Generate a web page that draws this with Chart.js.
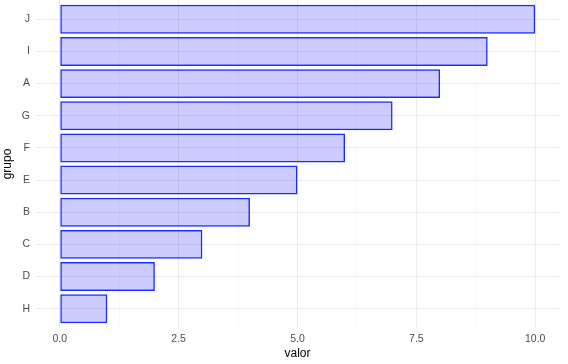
<!DOCTYPE html>
<html>
<head>
<meta charset="utf-8">
<script src="https://cdn.jsdelivr.net/npm/chart.js@4"></script>
<style>
  html, body { margin: 0; padding: 0; background: #fff; }
  canvas { display: block; }
</style>
</head>
<body>
<canvas id="grafico" width="568" height="364"></canvas>
<script>
// grupos de baixo para cima (ordem do eixo no ggplot)
const grupos = ["H", "D", "C", "B", "E", "F", "G", "A", "I", "J"];
const valores = [1, 2, 3, 4, 5, 6, 7, 8, 9, 10];

const marcasX = [0, 2.5, 5, 7.5, 10];
const marcasMenoresX = [1.25, 3.75, 6.25, 8.75];

const fonte = "'Liberation Sans', Arial, Helvetica, sans-serif";
const cinzaTexto = "#4D4D4D";
const cinzaGrade = "#EBEBEB";

new Chart(document.getElementById("grafico"), {
  type: "bar",
  data: {
    datasets: [{
      data: valores.map((v, i) => ({ x: v, y: i })),
      backgroundColor: "rgba(0, 0, 255, 0.2)",
      borderColor: "#1A2BFF",
      borderWidth: 1.5,
      borderSkipped: false,
      barPercentage: 0.9,
      categoryPercentage: 1
    }]
  },
  options: {
    indexAxis: "y",
    responsive: false,
    animation: false,
    layout: { padding: { top: 0, right: 9, bottom: 0, left: 0 } },
    plugins: { legend: { display: false }, tooltip: { enabled: false } },
    scales: {
      x: {
        type: "linear",
        min: -0.5,
        max: 10.5,
        afterBuildTicks: s => {
          s.ticks = marcasX.concat(marcasMenoresX).sort((a, b) => a - b).map(v => ({ value: v }));
        },
        afterFit: s => { s.height = 36; s.paddingLeft = 0; s.paddingRight = 0; },
        border: { display: false },
        grid: {
          drawTicks: false,
          color: c => marcasX.includes(c.tick.value) ? cinzaGrade : "#F3F3F3",
          lineWidth: c => marcasX.includes(c.tick.value) ? 1 : 0.6
        },
        ticks: {
          autoSkip: false,
          maxRotation: 0,
          padding: 5,
          color: cinzaTexto,
          font: { family: fonte, size: 10.5 },
          callback: v => marcasX.includes(v) ? v.toFixed(1) : ""
        },
        title: {
          display: true,
          text: "valor",
          color: "#000",
          font: { family: fonte, size: 12 },
          padding: { top: 0, bottom: 3.6 }
        }
      },
      y: {
        type: "linear",
        min: -0.6,
        max: 9.6,
        offset: false,
        afterBuildTicks: s => {
          s.ticks = grupos.map((g, i) => ({ value: i }));
        },
        afterFit: s => { s.width = 36; s.paddingTop = 0; s.paddingBottom = 0; },
        border: { display: false },
        grid: { offset: false, drawTicks: false, color: cinzaGrade, lineWidth: 1 },
        ticks: {
          autoSkip: false,
          padding: 6,
          color: cinzaTexto,
          font: { family: fonte, size: 10.5 },
          callback: v => grupos[v] ?? ""
        },
        title: {
          display: true,
          text: "grupo",
          color: "#000",
          font: { family: fonte, size: 12 },
          padding: { top: 0.8, bottom: 0 }
        }
      }
    }
  }
});
</script>
</body>
</html>
